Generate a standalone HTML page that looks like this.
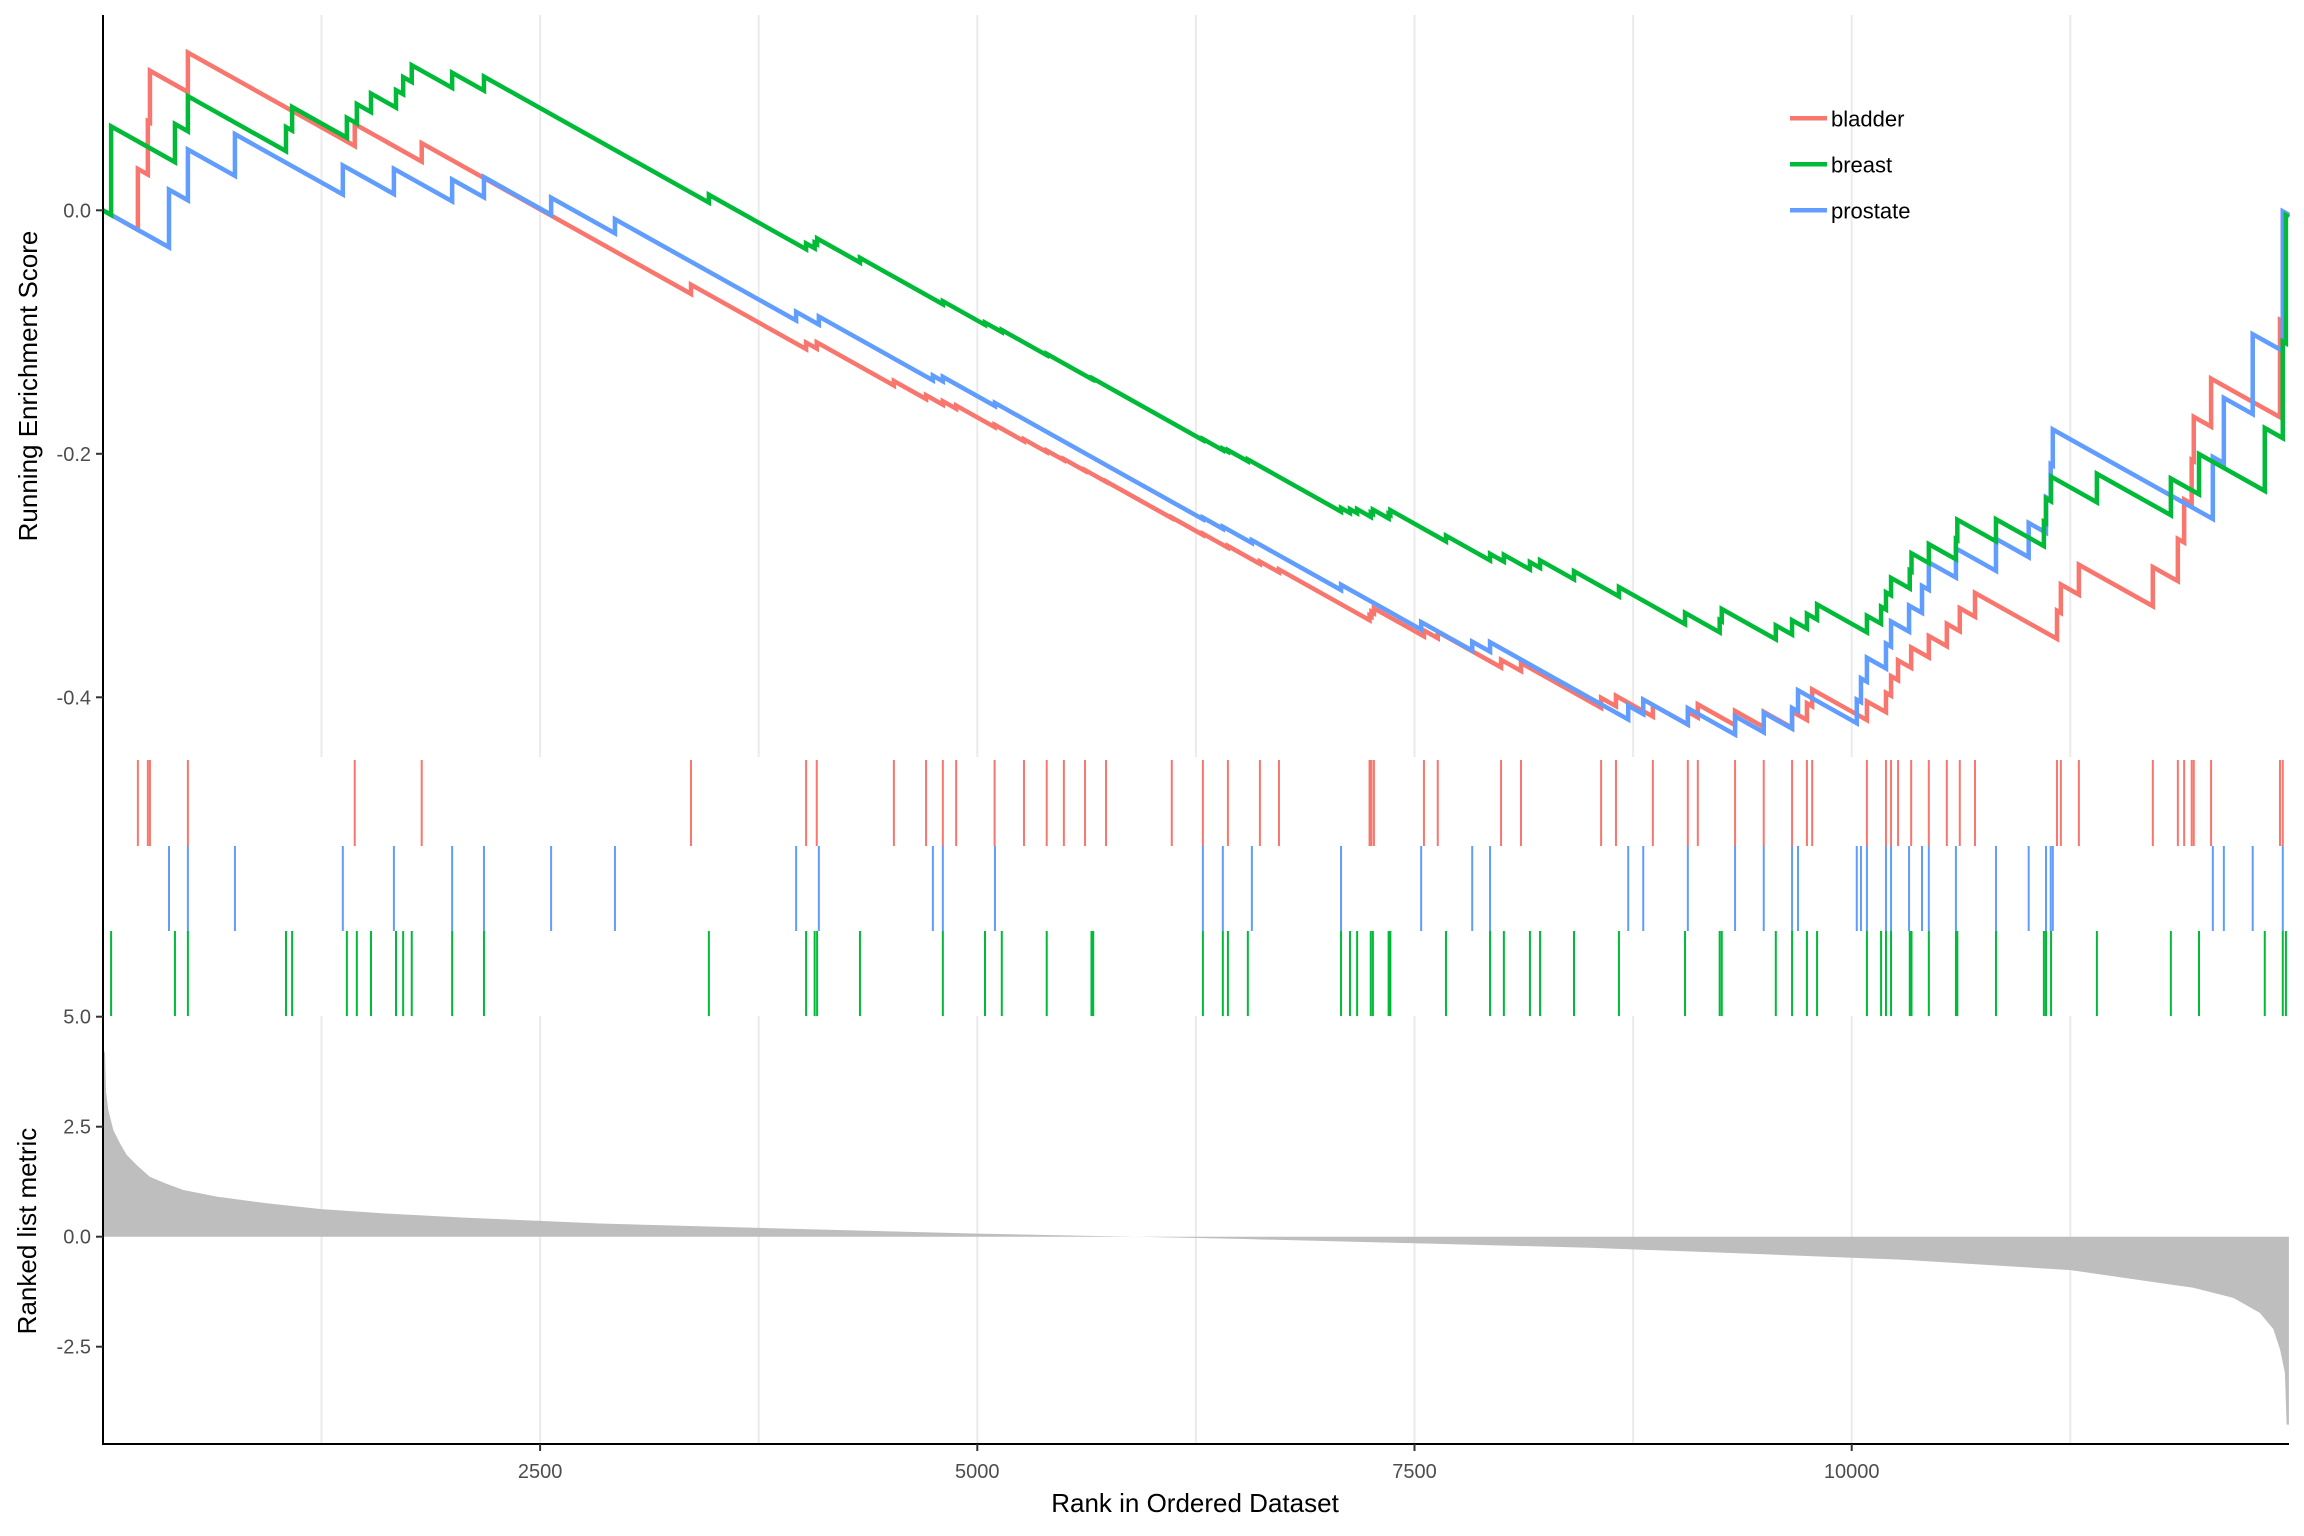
<!DOCTYPE html>
<html>
<head>
<meta charset="utf-8">
<style>
html,body{margin:0;padding:0;background:#fff;}
svg{display:block;font-family:"Liberation Sans",Arial,sans-serif;}
</style>
</head>
<body>
<svg id="chart" xmlns="http://www.w3.org/2000/svg" width="2304" height="1536" viewBox="0 0 2304 1536">
  <rect x="0" y="0" width="2304" height="1536" fill="#ffffff"/>
  <g id="grid"></g>
  <g id="metric"></g>
  <g id="hits"></g>
  <g id="es"></g>
  <g id="axes">
    <line x1="103" y1="15" x2="103" y2="1445" stroke="#000" stroke-width="2"/>
    <line x1="102" y1="1444" x2="2289" y2="1444" stroke="#000" stroke-width="2"/>
  </g>
  <text x="28" y="386" transform="rotate(-90 28 386)" text-anchor="middle" dominant-baseline="central" font-size="26" fill="#000">Running Enrichment Score</text>
  <text x="27" y="1231" transform="rotate(-90 27 1231)" text-anchor="middle" dominant-baseline="central" font-size="26" fill="#000">Ranked list metric</text>
  <text x="1195" y="1512" text-anchor="middle" font-size="26" fill="#000">Rank in Ordered Dataset</text>
  <g id="legend"></g>
</svg>
<script>
// ---- data ----
const N = 12500;
const metricRanks = [1, 12, 18, 31, 60, 98, 136, 193, 269, 365, 460, 651, 937, 1241, 1604, 2080, 2499, 2842, 3750, 4500, 5000, 5500, 5900, 6500, 7500, 8500, 9500, 10276, 11252, 11953, 12182, 12334, 12411, 12449, 12477, 12487, 12500];
const metricValues = [4.3, 4.17, 3.3, 2.88, 2.42, 2.12, 1.86, 1.63, 1.36, 1.2, 1.06, 0.91, 0.76, 0.63, 0.53, 0.43, 0.36, 0.30, 0.2, 0.12, 0.07, 0.03, 0.0, -0.05, -0.15, -0.25, -0.4, -0.52, -0.76, -1.16, -1.39, -1.73, -2.1, -2.56, -3.09, -4.27, -4.27];
const bladderHits = [200, 257, 269, 486, 1440, 1823, 3363, 4021, 4082, 4523, 4707, 4803, 4879, 5099, 5267, 5397, 5495, 5616, 5736, 6112, 6290, 6433, 6616, 6725, 7243, 7254, 7268, 7554, 7633, 7995, 8109, 8567, 8652, 8863, 9063, 9120, 9333, 9497, 9659, 9744, 9774, 10087, 10196, 10225, 10265, 10340, 10441, 10544, 10618, 10705, 11174, 11196, 11299, 11722, 11865, 11901, 11944, 11956, 12055, 12449, 12465];
const prostateHits = [378, 486, 755, 1372, 1664, 1997, 2179, 2563, 2928, 3964, 4094, 4746, 4803, 5101, 6290, 6404, 6570, 7080, 7538, 7830, 7932, 8722, 8808, 9063, 9333, 9497, 9659, 9693, 10029, 10053, 10087, 10196, 10225, 10328, 10402, 10441, 10596, 10825, 11012, 11111, 11138, 11150, 12065, 12128, 12293, 12465];
const breastHits = [47, 412, 486, 1047, 1082, 1395, 1452, 1533, 1676, 1717, 1766, 1997, 2179, 3465, 4021, 4070, 4084, 4329, 4803, 5044, 5140, 5397, 5653, 5663, 6290, 6404, 6433, 6547, 7080, 7131, 7172, 7250, 7262, 7352, 7362, 7680, 7932, 8011, 8160, 8218, 8412, 8669, 9047, 9245, 9257, 9566, 9659, 9744, 9802, 10087, 10168, 10196, 10225, 10332, 10342, 10441, 10596, 10604, 10825, 11099, 11111, 11140, 11402, 11825, 11986, 12362, 12465, 12483];
const xTicks = [2500, 5000, 7500, 10000];
const xTickLabels = ["2500", "5000", "7500", "10000"];
const xGrid = [1250, 2500, 3750, 5000, 6250, 7500, 8750, 10000, 11250];
const esTicks = [0.0, -0.2, -0.4];
const esTickLabels = ["0.0", "-0.2", "-0.4"];
const metricTicks = [5.0, 2.5, 0.0, -2.5];
const metricTickLabels = ["5.0", "2.5", "0.0", "-2.5"];
const seriesNames = ["bladder", "breast", "prostate"];

// ---- scales ----
const NS = "http://www.w3.org/2000/svg";
const xs = v => 102.9 + v * 0.17488;
const ys = v => 210.3 - v * 1217.5;
const ym = v => 1236.7 - v * 44;
const colors = {bladder: "#F8766D", breast: "#00BA38", prostate: "#619CFF"};
const rows = {bladder: [760, 846], prostate: [846, 931], breast: [931, 1016]};
function mk(tag, attrs, parent) {
  const el = document.createElementNS(NS, tag);
  for (const k in attrs) el.setAttribute(k, attrs[k]);
  parent.appendChild(el);
  return el;
}
function metricAt(r) {
  if (r <= metricRanks[0]) return metricValues[0];
  for (let i = 1; i < metricRanks.length; i++) {
    if (r <= metricRanks[i]) {
      const t = (r - metricRanks[i-1]) / (metricRanks[i] - metricRanks[i-1]);
      return metricValues[i-1] + t * (metricValues[i] - metricValues[i-1]);
    }
  }
  return metricValues[metricValues.length - 1];
}

// ---- grid ----
const grid = document.getElementById("grid");
xGrid.forEach(g => {
  [[15, 757], [1016, 1444]].forEach(([a, b]) => {
    const l = mk("line", {x1: xs(g), x2: xs(g), y1: a, y2: b, stroke: "#ebebeb", "stroke-width": 2}, grid);
    
    
  });
});

// ---- ranked metric area ----
const mg = document.getElementById("metric");
let pts = [xs(metricRanks[0]) + "," + ym(0)];
metricRanks.forEach((r, i) => pts.push(xs(r) + "," + ym(metricValues[i])));
pts.push(xs(metricRanks[metricRanks.length - 1]) + "," + ym(0));
const area = mk("polygon", {points: pts.join(" "), fill: "#bebebe"}, mg);



// ---- hit ticks ----
const hg = document.getElementById("hits");
const hitSets = {bladder: bladderHits, prostate: prostateHits, breast: breastHits};
for (const name in hitSets) {
  hitSets[name].forEach(h => {
    const l = mk("line", {x1: xs(h), x2: xs(h), y1: rows[name][0], y2: rows[name][1], stroke: colors[name], "stroke-width": 2}, hg);
    
    
  });
}

// ---- running enrichment score ----
const eg = document.getElementById("es");
["bladder", "prostate", "breast"].forEach(name => {
  const hits = hitSets[name].slice().sort((a, b) => a - b);
  const w = hits.map(h => Math.abs(metricAt(h)));
  const tot = w.reduce((a, b) => a + b, 0);
  const miss = 1 / (N - hits.length);
  let es = 0, prev = 0;
  const p = [[0, 0]];
  hits.forEach((h, i) => {
    es -= (h - prev) * miss;
    p.push([h, es]);
    es += w[i] / tot;
    p.push([h, es]);
    prev = h;
  });
  es -= (N - prev) * miss;
  p.push([N, es]);
  const line = mk("polyline", {points: p.map(q => xs(q[0]).toFixed(2) + "," + ys(q[1]).toFixed(2)).join(" "),
    fill: "none", stroke: colors[name], "stroke-width": 4.5, "stroke-linejoin": "miter"}, eg);
  
  
});

// ---- axes ticks ----
const ax = document.getElementById("axes");
xTicks.forEach((t, i) => {
  const l = mk("line", {x1: xs(t), x2: xs(t), y1: 1444, y2: 1451, stroke: "#333", "stroke-width": 2}, ax);
  
  
  const tx = mk("text", {x: xs(t), y: 1478, "text-anchor": "middle", "font-size": 20, fill: "#4d4d4d"}, ax);
  tx.textContent = xTickLabels[i];
  
  
});
esTicks.forEach((t, i) => {
  const l = mk("line", {x1: 96, x2: 103, y1: ys(t), y2: ys(t), stroke: "#333", "stroke-width": 2}, ax);
  
  
  const tx = mk("text", {x: 91, y: ys(t) + 7, "text-anchor": "end", "font-size": 20, fill: "#4d4d4d"}, ax);
  tx.textContent = esTickLabels[i];
  
  
});
metricTicks.forEach((t, i) => {
  const l = mk("line", {x1: 96, x2: 103, y1: ym(t), y2: ym(t), stroke: "#333", "stroke-width": 2}, ax);
  
  
  const tx = mk("text", {x: 91, y: ym(t) + 7, "text-anchor": "end", "font-size": 20, fill: "#4d4d4d"}, ax);
  tx.textContent = metricTickLabels[i];
  
  
});

// ---- legend ----
const lg = document.getElementById("legend");
seriesNames.forEach((name, i) => {
  const y = 118.3 + i * 46;
  const l = mk("line", {x1: 1790, x2: 1827, y1: y, y2: y, stroke: colors[name], "stroke-width": 4.5}, lg);
  
  
  const tx = mk("text", {x: 1831, y: y + 8, "font-size": 22, fill: "#000"}, lg);
  tx.textContent = name;
  
  
});
</script>
</body>
</html>
